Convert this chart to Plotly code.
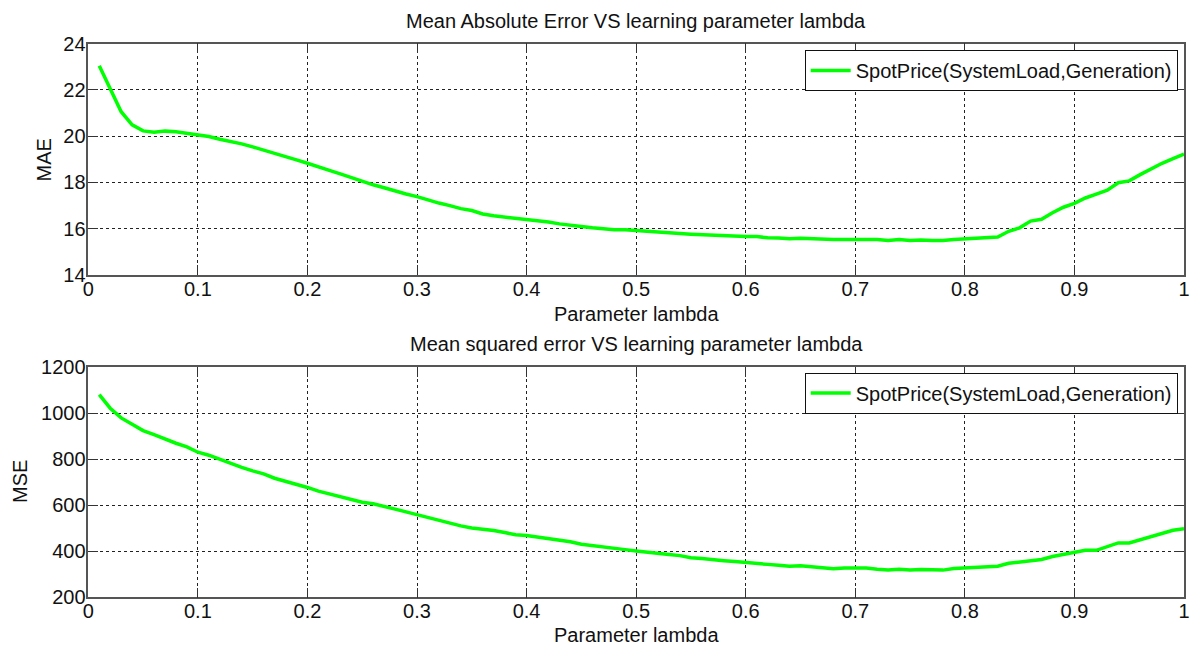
import plotly.graph_objects as go
from plotly.subplots import make_subplots

lam = [round(0.01 * i, 2) for i in range(1, 101)]

mae = [23.05, 22.07, 21.06, 20.49, 20.23, 20.17, 20.22, 20.19, 20.13, 20.07,
       19.99, 19.87, 19.78, 19.67, 19.54, 19.41, 19.27, 19.12, 18.98, 18.83,
       18.66, 18.52, 18.37, 18.21, 18.04, 17.90, 17.77, 17.62, 17.50, 17.39,
       17.24, 17.11, 17.00, 16.87, 16.79, 16.64, 16.56, 16.51, 16.47, 16.41,
       16.36, 16.29, 16.21, 16.17, 16.10, 16.04, 15.99, 15.96, 15.96, 15.91,
       15.89, 15.86, 15.81, 15.79, 15.76, 15.74, 15.73, 15.69, 15.66, 15.66,
       15.66, 15.61, 15.60, 15.57, 15.59, 15.56, 15.53, 15.53, 15.53, 15.53,
       15.53, 15.53, 15.49, 15.53, 15.49, 15.51, 15.49, 15.49, 15.53, 15.56,
       15.60, 15.61, 15.64, 15.89, 16.04, 16.33, 16.41, 16.69, 16.93, 17.10,
       17.33, 17.50, 17.67, 17.99, 18.07, 18.34, 18.60, 18.83, 19.03, 19.23]

mse = [1080, 1021, 979, 950, 924, 906, 886, 869, 853, 830,
       817, 799, 781, 764, 749, 736, 717, 704, 691, 677,
       661, 649, 639, 624, 613, 606, 593, 583, 571, 559,
       545, 533, 522, 510, 501, 497, 490, 481, 472, 468,
       461, 454, 448, 441, 430, 425, 417, 414, 407, 401,
       397, 390, 386, 381, 372, 368, 365, 359, 355, 352,
       348, 343, 339, 335, 337, 332, 327, 324, 327, 328,
       327, 322, 319, 322, 319, 321, 318, 318, 325, 328,
       331, 335, 335, 348, 353, 361, 364, 377, 387, 396,
       404, 404, 419, 436, 436, 450, 465, 479, 491, 498]

series_name = "SpotPrice(SystemLoad,Generation)"
title_top = "Mean Absolute Error VS learning parameter lambda"
title_bottom = "Mean squared error VS learning parameter lambda"
xlabel = "Parameter lambda"

W, H = 1194, 648
FONT = "Liberation Sans, Arial, sans-serif"

fig = make_subplots(rows=2, cols=1)
fig.add_trace(go.Scatter(x=lam, y=mae, mode="lines", name=series_name,
                         line=dict(color="#00FF00", width=3.5), legend="legend"),
              row=1, col=1)
fig.add_trace(go.Scatter(x=lam, y=mse, mode="lines", name=series_name,
                         line=dict(color="#00FF00", width=3.5), legend="legend2"),
              row=2, col=1)

xdom = [88.3 / W, 1184 / W]
ydom_top = [1 - 275 / H, 1 - 43.7 / H]
ydom_bot = [1 - 597.3 / H, 1 - 367 / H]

axis_common = dict(
    showline=True, linecolor="#555555", linewidth=1.5, mirror="ticks",
    ticks="inside", ticklen=10, tickcolor="#333333", tickwidth=1,
    showgrid=True, gridcolor="#222222", gridwidth=1, griddash="3px,3px",
    zeroline=False, tickfont=dict(family=FONT, size=20, color="#111111"),
    automargin=False,
)

fig.update_xaxes(**axis_common, range=[0, 1], dtick=0.1, tick0=0,
                 ticklabelstandoff=-5)
fig.update_yaxes(**axis_common, ticklabelstandoff=-3)
fig.update_layout(
    xaxis=dict(domain=xdom),
    xaxis2=dict(domain=xdom),
    yaxis=dict(domain=ydom_top, range=[14, 24], dtick=2),
    yaxis2=dict(domain=ydom_bot, range=[200, 1200], dtick=200),
)

legend_common = dict(
    xref="paper", yref="paper", xanchor="right", yanchor="top",
    bgcolor="white", bordercolor="#111111", borderwidth=1,
    font=dict(family=FONT, size=20, color="#111111"),
    tracegroupgap=0, itemwidth=40,
)

annotations = [
    dict(text=title_top, x=636, y=21),
    dict(text=xlabel, x=636, y=314),
    dict(text=title_bottom, x=636, y=344),
    dict(text=xlabel, x=636, y=635),
]
ann = []
for a in annotations:
    ann.append(dict(text=a["text"], x=a["x"] / W, y=1 - a["y"] / H,
                    xref="paper", yref="paper", showarrow=False,
                    xanchor="center", yanchor="middle",
                    font=dict(family=FONT, size=20, color="#111111")))
ann.append(dict(text="MAE", x=43.5 / W, y=1 - 160 / H, xref="paper", yref="paper",
                showarrow=False, textangle=-90, xanchor="center", yanchor="middle",
                font=dict(family=FONT, size=20, color="#111111")))
ann.append(dict(text="MSE", x=20 / W, y=1 - 482 / H, xref="paper", yref="paper",
                showarrow=False, textangle=-90, xanchor="center", yanchor="middle",
                font=dict(family=FONT, size=20, color="#111111")))

fig.update_layout(
    width=W, height=H,
    margin=dict(l=0, r=0, t=0, b=0),
    paper_bgcolor="white", plot_bgcolor="white",
    showlegend=True,
    legend=dict(**legend_common, x=1177.7 / W, y=1 - 50 / H),
    legend2=dict(**legend_common, x=1177.7 / W, y=1 - 372.5 / H),
    annotations=ann,
)

fig.write_html("out.html")
